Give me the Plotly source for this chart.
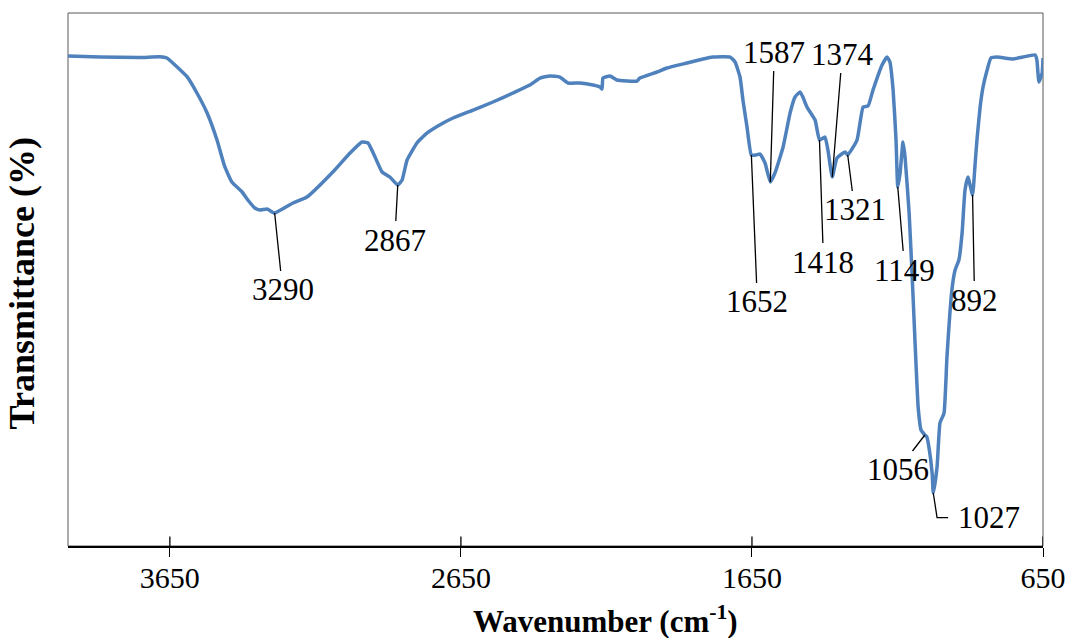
import plotly.graph_objects as go

# FTIR spectrum: wavenumber (cm-1) and transmittance (%)
wavenumber = [
    4000, 3890, 3753, 3684, 3660, 3626, 3591, 3557, 3522, 3488,
    3461, 3437, 3402, 3382, 3358, 3340, 3316, 3290, 3227, 3179,
    3090, 3031, 2990, 2969, 2945, 2921, 2894, 2867, 2852, 2835,
    2801, 2766, 2711, 2677, 2608, 2540, 2471, 2413, 2378, 2344,
    2310, 2282, 2241, 2196, 2172, 2165, 2162, 2138, 2114, 2045,
    2035, 1976, 1942, 1873, 1818, 1784, 1725, 1708, 1691, 1681,
    1667, 1652, 1636, 1622, 1605, 1587, 1571, 1543, 1519, 1502,
    1485, 1475, 1461, 1433, 1418, 1399, 1389, 1374, 1358, 1330,
    1321, 1289, 1268, 1251, 1234, 1203, 1186, 1176, 1165, 1155,
    1149, 1141, 1131, 1124, 1110, 1100, 1090, 1079, 1069, 1056,
    1049, 1042, 1031, 1027, 1014, 1004, 990, 980, 963, 952,
    939, 928, 918, 908, 892, 884, 877, 866, 856, 842,
    829, 808, 753, 719, 677, 671, 664, 653, 650,
]
transmittance = [
    91.93, 91.74, 91.65, 91.80, 91.56, 89.92, 88.05, 84.99, 81.24, 76.17,
    71.11, 68.29, 66.42, 64.92, 63.41, 63.04, 63.23, 62.48, 64.35, 65.48,
    70.17, 73.73, 75.80, 75.61, 72.98, 70.17, 69.23, 67.73, 68.67, 72.42,
    75.61, 77.49, 79.36, 80.30, 81.80, 83.30, 84.99, 86.49, 87.80, 88.18,
    87.99, 86.87, 86.87, 86.49, 86.12, 85.74, 87.80, 88.18, 87.43, 87.24,
    87.80, 88.93, 89.68, 90.62, 91.37, 91.74, 91.74, 90.81, 87.99, 83.68,
    78.61, 73.36, 73.36, 73.55, 71.86, 68.29, 69.98, 74.86, 81.24, 84.24,
    85.18, 84.24, 82.36, 79.92, 76.17, 76.74, 74.30, 69.23, 72.80, 73.92,
    73.36, 76.17, 82.36, 82.55, 85.55, 90.24, 91.74, 90.81, 85.55, 76.17,
    67.35, 69.98, 75.80, 72.98, 62.48, 51.22, 38.65, 26.08, 21.76, 20.83,
    20.45, 18.57, 13.70, 9.94, 14.82, 23.08, 24.95, 35.46, 48.03, 51.78,
    53.66, 58.72, 66.79, 69.23, 65.85, 71.11, 76.17, 82.36, 86.12, 89.31,
    91.56, 91.74, 91.37, 91.74, 92.12, 91.18, 87.05, 88.74, 91.56,
]

# Labelled absorption bands and the pixel offset of each label from its band
peaks = [3290, 2867, 1652, 1587, 1418, 1374, 1321, 1149, 1056, 892]
label_dx = [8, -3, 6, 4, 4, 10, 7, 7, -27, 2]
label_dy = [77, 55, 147, -130, 122, -123, 55, 83, 35, 105]
# The strongest band uses an elbow leader line
main_peak = 1027

x_ticks = [3650, 2650, 1650, 650]

FONT = "Times New Roman, Liberation Serif, serif"
LINE_COLOR = "#4F81BD"

t_at = dict(zip(wavenumber, transmittance))

fig = go.Figure()
fig.add_trace(go.Scatter(
    x=wavenumber, y=transmittance, mode="lines",
    line=dict(color=LINE_COLOR, width=3.5, shape="spline", smoothing=0.4),
    hoverinfo="x+y", showlegend=False,
))

annotations = []
for wn, dx, dy in zip(peaks, label_dx, label_dy):
    annotations.append(dict(
        x=wn, y=t_at[wn], xref="x", yref="y", text=str(wn),
        showarrow=True, arrowhead=0, arrowwidth=1.3, arrowcolor="black",
        ax=dx, ay=dy, standoff=0, startstandoff=0,
        font=dict(family=FONT, size=31, color="black"),
    ))

# elbow leader for the strongest band
t_main = t_at[main_peak]
fig.add_shape(type="path", xref="x", yref="y",
              path=f"M {main_peak},{t_main} L {main_peak - 13},{t_main - 4.6} L {main_peak - 51},{t_main - 4.6}",
              line=dict(color="black", width=1.3))
annotations.append(dict(
    x=main_peak - 51, y=t_main - 4.6, xref="x", yref="y", text=str(main_peak),
    showarrow=False, xanchor="left", yanchor="middle", xshift=8,
    font=dict(family=FONT, size=31, color="black"),
))

# axis titles
annotations.append(dict(
    x=0.551, y=-0.137, xref="paper", yref="paper",
    text="<b>Wavenumber (cm<sup>-1</sup>)</b>", showarrow=False,
    xanchor="center", yanchor="middle",
    font=dict(family=FONT, size=31, color="black"),
))
annotations.append(dict(
    x=-0.047, y=0.493, xref="paper", yref="paper",
    text="<b>Transmittance (%)</b>", showarrow=False, textangle=-90,
    xanchor="center", yanchor="middle",
    font=dict(family=FONT, size=36, color="black"),
))

# plot frame and the upper half of the crossing ticks
fig.add_shape(type="rect", xref="paper", yref="paper", x0=0, x1=1, y0=0, y1=1,
              line=dict(color="#595959", width=1), layer="below")
for t in x_ticks:
    fig.add_shape(type="line", xref="x", yref="y domain", x0=t, x1=t, y0=0, y1=0.018,
                  line=dict(color="black", width=1.3))

fig.update_layout(
    width=1070, height=638,
    margin=dict(l=68, r=27, t=13, b=92, autoexpand=False),
    paper_bgcolor="white", plot_bgcolor="white",
    annotations=annotations,
    font=dict(family=FONT, color="black"),
)
fig.update_xaxes(
    range=[4000, 650], tickvals=x_ticks, ticktext=[str(t) for t in x_ticks],
    ticks="outside", ticklen=9, tickwidth=1.3, tickcolor="black",
    showline=True, linecolor="black", linewidth=2,
    showgrid=False, zeroline=False, automargin=False,
    tickfont=dict(family=FONT, size=30, color="black"),
    ticklabelstandoff=-5,
)
fig.update_yaxes(
    range=[0, 100], showticklabels=False, ticks="", showgrid=False,
    zeroline=False, showline=False, automargin=False,
)

fig.write_html("out.html")
